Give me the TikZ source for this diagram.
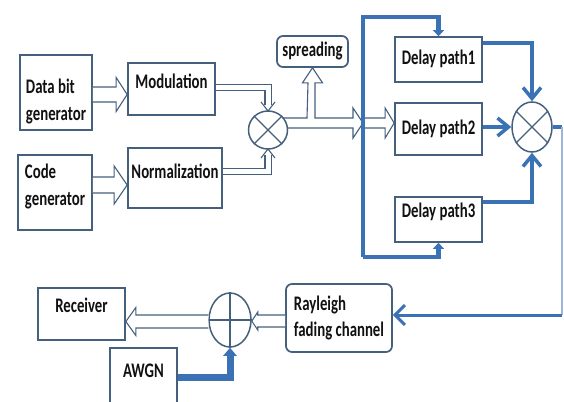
\documentclass[tikz,border=0pt]{standalone}
\usepackage{fontspec}
\setmainfont{Carlito}
\usepackage{graphicx}
\usetikzlibrary{arrows.meta,shapes.geometric,calc}

\definecolor{ln}{HTML}{44607C}
\definecolor{bl}{HTML}{3B72B6}
\definecolor{blt}{HTML}{9BB8DC}
\definecolor{txtc}{HTML}{111111}

\newcommand\tx[2][0pt]{\raisebox{#1}[\height][\depth]{\scalebox{1}[1.4]{\begin{tabular}{@{}l@{}}#2\end{tabular}}}}

\begin{document}
\begin{tikzpicture}[x=1pt,y=-1pt,
  box/.style={draw=ln, line width=1.7pt, fill=white, inner sep=0pt, text=txtc,
    font=\fontsize{14.8}{19}\selectfont\bfseries},
  rbox/.style={box, rounded corners=6pt},
  circ/.style={ellipse, draw=ln, line width=1.5pt, fill=white, inner sep=0pt},
  xline/.style={draw=ln, line width=1.3pt},
  hol/.style={draw=ln, line width=1.1pt, fill=white, line join=miter},
  dbl/.style={draw=ln, line width=1.1pt, double=white, double distance=5pt},
  vtip/.style={draw=ln, line width=1.1pt},
  bfr/.style={draw=bl, line width=4.5pt},
  bmid/.style={draw=bl, line width=3.5pt},
  hR/.style args={#1/#2/#3}{to path={let \p1=(\tikztostart),\p2=(\tikztotarget) in
    (\x1,\y1+#1) -- (\x2-#3,\y1+#1) -- (\x2-#3,\y1+#2) -- (\x2,\y1) -- (\x2-#3,\y1-#2) -- (\x2-#3,\y1-#1) -- (\x1,\y1-#1)}},
  hL/.style args={#1/#2/#3}{to path={let \p1=(\tikztostart),\p2=(\tikztotarget) in
    (\x1,\y1+#1) -- (\x2+#3,\y1+#1) -- (\x2+#3,\y1+#2) -- (\x2,\y1) -- (\x2+#3,\y1-#2) -- (\x2+#3,\y1-#1) -- (\x1,\y1-#1)}}
]
\fill[white] (0,0) rectangle (564,401);
\useasboundingbox (0,0) rectangle (564,401);

% boxes
\node[box, minimum width=72pt, minimum height=75pt] (data) at (56,92.5) {\tx[-9pt]{Data bit\\generator}};
\node[box, minimum width=87pt, minimum height=52pt] (mod) at (171.5,89) {\tx[6pt]{Modulation}};
\node[box, minimum width=74pt, minimum height=75pt] (code) at (55,192.5) {\tx[6pt]{Code\\generator}};
\node[box, minimum width=94pt, minimum height=60pt] (norm) at (175,178) {\tx[5pt]{Normalization}};
\node[rbox, minimum width=71pt, minimum height=31pt] (spr) at (312.5,51.5) {\tx{spreading}};
\node[box, minimum width=87pt, minimum height=45pt] (d1) at (438.5,59.5) {\tx{Delay path1}};
\node[box, minimum width=87pt, minimum height=52pt] (d2) at (438.5,129) {\tx{Delay path2}};
\node[box, minimum width=87pt, minimum height=45pt] (d3) at (438.5,219.5) {\tx[7pt]{Delay path3}};
\node[rbox, minimum width=106pt, minimum height=68pt] (ray) at (339,318) {\tx{Rayleigh\\fading channel}};
\node[box, minimum width=87pt, minimum height=52pt] (rec) at (81.5,314) {\tx[7pt]{Receiver}};
\node[box, minimum width=67pt, minimum height=72pt] (awgn) at (143.5,384) {\tx[12pt]{AWGN}};

% hollow arrows
\draw[hol] (data.east |- 0,94.5) to[hR=7.5pt/17pt/11pt] (mod.west |- 0,94.5);
\draw[hol] (code.east |- 0,185) to[hR=8pt/19pt/13pt] (norm.west |- 0,185);

% double lines into multiplier
\coordinate (mulN) at (268,111);
\coordinate (mulS) at (268,149);
\draw[dbl] (mod.east |- 0,87.5) -| ($(mulN)+(0,-6)$);
\draw[vtip] ($(mulN)+(-7,-9)$) -- (mulN) -- ($(mulN)+(7,-9)$);
\draw[dbl] (norm.east |- 0,171.5) -| ($(mulS)+(0,6)$);
\draw[vtip] ($(mulS)+(-7,9)$) -- (mulS) -- ($(mulS)+(7,9)$);

% output of multiplier with branch to spreading
\coordinate (vbar) at (363,123);
\draw[hol] (280,118) -- (307,118) -- ($(spr.south)+(-4.5,15)$) -- ($(spr.south)+(-10,15)$)
  -- (spr.south) -- ($(spr.south)+(10,15)$) -- ($(spr.south)+(2.5,15)$) -- (315,118)
  -- ($(vbar)+(-10,-5)$) -- ($(vbar)+(-10,-15)$) -- (vbar) -- ($(vbar)+(-10,15)$) -- ($(vbar)+(-10,5)$) -- (280,128);
\draw[hol] (vbar) to[hR=5pt/15pt/9pt] (d2.west |- vbar);

% circles
\node[circ, minimum width=39pt, minimum height=38pt] (mul) at (268,130) {};
\draw[xline] (mul.45) -- (mul.225) (mul.135) -- (mul.315);
\node[circ, minimum width=40pt, minimum height=50pt] (rc) at (532,127) {};
\draw[xline] (rc.45) -- (rc.225) (rc.135) -- (rc.315);

% blue frame to delay paths
\coordinate (ftop) at (363,17);
\coordinate (fbot) at (363,257);
\draw[bfr, -{Triangle[length=6pt,width=11pt]}] (fbot) -- (ftop) -| (d1.north);
\draw[bfr, -{Triangle[length=6pt,width=11pt]}] (fbot) -| (d3.south);

% delay paths to combiner
\draw[bmid, -{Straight Barb[length=11pt,width=18pt]}] (d1.east |- 0,43) -| (rc.north);
\draw[bmid, -{Straight Barb[length=11pt,width=18pt]}] (d2.east |- rc.west) -- (rc.west);
\draw[bmid, -{Straight Barb[length=11pt,width=18pt]}] (d3.east |- 0,202) -| (rc.south);

% combiner output to channel
\coordinate (ro1) at (562,127);
\coordinate (ro2) at (562,315);
\draw[bmid] (rc.east) -- (ro1);
\draw[draw=blt, line width=2pt] (ro1) -- (ro2);
\draw[draw=bl, line width=3pt, -{Straight Barb[length=10pt,width=20pt]}] (ro2) -- (ray.east |- ro2);

% receiver side
\node[circ, minimum width=42pt, minimum height=54pt] (add) at (230,320) {};
\draw[xline] (add.north) -- (add.south) (add.west) -- (add.east);
\draw[hol] (ray.west |- 0,321) to[hL=6pt/9pt/6pt] (add.east |- 0,321);
\draw[hol] (add.west |- 0,321.5) to[hL=6.5pt/14pt/10pt] (rec.east |- 0,321.5);
\draw[draw=bl, line width=7pt, -{Triangle[length=8pt,width=13pt]}] (awgn.east |- 0,377) -| (add.south);
\end{tikzpicture}
\end{document}
